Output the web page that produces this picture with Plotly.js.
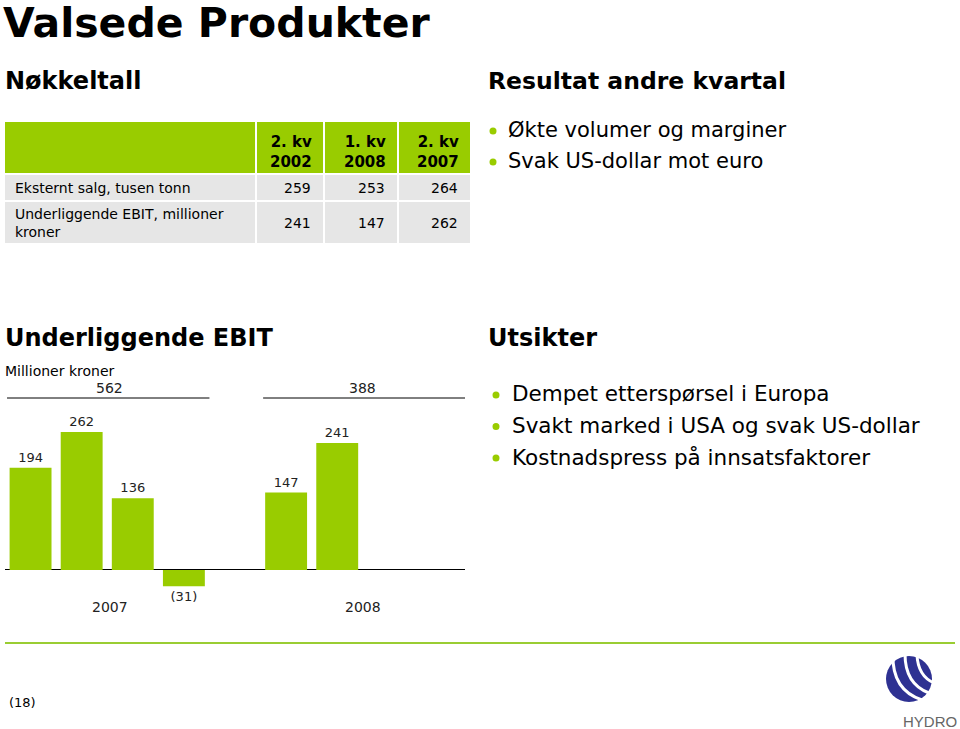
<!DOCTYPE html>
<html>
<head>
<meta charset="utf-8">
<script src="https://cdn.plot.ly/plotly-3.0.1.min.js"></script>
<style>html,body{margin:0;padding:0;background:#fff;}#chart{width:960px;height:729px;}</style>
</head>
<body>
<div id="chart"></div>
<script>
// ---- Data ----
const quarters = ["1. kv 2007","2. kv 2007","3. kv 2007","4. kv 2007"," ","1. kv 2008","2. kv 2008","3. kv 2008","4. kv 2008"];
const ebit = [194, 262, 136, -31, null, 147, 241, null, null];
const years = ["2007", "2008"];
const yearTotals = [562, 388];

const tableHeaders = ["2. kv<br>2002", "1. kv<br>2008", "2. kv<br>2007"];
const tableRowLabels = ["Eksternt salg, tusen tonn", "Underliggende EBIT, millioner<br>kroner"];
const tableSalg = [259, 253, 264];
const tableEbit = [241, 147, 262];

const resultBullets = ["Økte volumer og marginer", "Svak US-dollar mot euro"];
const outlookBullets = ["Dempet etterspørsel i Europa", "Svakt marked i USA og svak US-dollar", "Kostnadspress på innsatsfaktorer"];

// ---- Helpers ----
const W = 960, H = 729;
const px = x => x / W;
const py = y => 1 - y / H;
const GREEN = "#99CC00";
const GRAY = "#E6E6E6";
const FONT = "DejaVu Sans, Verdana, sans-serif";

const fmt = v => v == null ? "" : (v < 0 ? "(" + Math.abs(v) + ")" : String(v));

const trace = {
  type: "bar",
  x: quarters,
  y: ebit,
  marker: {color: GREEN},
  text: ebit.map(fmt),
  textposition: "outside",
  textfont: {family: FONT, size: 13, color: "#222"},
  cliponaxis: false,
  hoverinfo: "x+y"
};

const shapes = [];
const ann = [];
function txt(text, x, y, size, opts) {
  ann.push(Object.assign({
    text: text, x: px(x), y: py(y), xref: "paper", yref: "paper",
    xanchor: "left", yanchor: "middle", showarrow: false,
    font: {family: FONT, size: size, color: "#000"}
  }, opts || {}));
}
function rect(x0, y0, x1, y1, color) {
  shapes.push({type: "rect", xref: "paper", yref: "paper",
    x0: px(x0), x1: px(x1), y0: py(y1), y1: py(y0),
    fillcolor: color, line: {width: 0}, layer: "below"});
}
function dot(x, y, r) {
  shapes.push({type: "circle", xref: "paper", yref: "paper",
    x0: px(x - r), x1: px(x + r), y0: py(y + r), y1: py(y - r),
    fillcolor: GREEN, line: {width: 0}});
}

// Title & headings
txt("<b>Valsede Produkter</b>", 2, 23, 41, {borderpad: 0});
txt("<b>Nøkkeltall</b>", 3, 81, 24);
txt("<b>Resultat andre kvartal</b>", 486, 81, 23.5);
txt("<b>Underliggende EBIT</b>", 3, 338, 24);
txt("<b>Utsikter</b>", 486, 338, 24);
txt("Millioner kroner", 3, 371, 14);

// Result bullets
resultBullets.forEach((b, i) => {
  const y = 130 + i * 31;
  dot(493, y + 1, 3.5);
  txt(b, 506, y, 21);
});
// Outlook bullets
outlookBullets.forEach((b, i) => {
  const y = 394 + i * 31.5;
  dot(496, y + 1, 3.5);
  txt(b, 510, y, 21.5);
});

// Table
const colX = [[5, 255], [257, 323], [325, 397], [399, 470]];
const rowY = [[122, 173], [175, 200], [202, 243]];
colX.forEach(c => {
  rect(c[0], rowY[0][0], c[1], rowY[0][1], GREEN);
  rect(c[0], rowY[1][0], c[1], rowY[1][1], GRAY);
  rect(c[0], rowY[2][0], c[1], rowY[2][1], GRAY);
});
tableHeaders.forEach((h, i) => {
  txt("<b>" + h + "</b>", colX[i + 1][1] - 9, 152, 15, {xanchor: "right", align: "right"});
});
txt(tableRowLabels[0], 13, 187.5, 14);
txt(tableRowLabels[1], 13, 223, 14, {align: "left"});
tableSalg.forEach((v, i) => txt(String(v), colX[i + 1][1] - 10, 187.5, 14, {xanchor: "right"}));
tableEbit.forEach((v, i) => txt(String(v), colX[i + 1][1] - 10, 223, 14, {xanchor: "right"}));

// Year brackets & totals (data x positions)
const yearSpans = [[-0.46, 3.5], [4.55, 8.5]];
const yearCenters = [1.55, 6.5];
yearTotals.forEach((t, i) => {
  shapes.push({type: "line", xref: "x", yref: "paper",
    x0: yearSpans[i][0], x1: yearSpans[i][1], y0: py(398), y1: py(398),
    line: {color: "#000", width: 1}});
  ann.push({text: String(t), x: yearCenters[i], y: py(388), xref: "x", yref: "paper",
    xanchor: "center", yanchor: "middle", showarrow: false,
    font: {family: FONT, size: 14, color: "#222"}});
  ann.push({text: years[i], x: yearCenters[i], y: py(607), xref: "x", yref: "paper",
    xanchor: "center", yanchor: "middle", showarrow: false,
    font: {family: FONT, size: 14, color: "#222"}});
});

// Footer
shapes.push({type: "line", xref: "paper", yref: "paper",
  x0: px(5), x1: px(955), y0: py(643), y1: py(643),
  line: {color: "#9ACD32", width: 2}});
txt("(18)", 7, 702, 13);

// Hydro logo
const cx = 909, cy = 679, r = 23;
shapes.push({type: "circle", xref: "paper", yref: "paper",
  x0: px(cx - r), x1: px(cx + r), y0: py(cy + r), y1: py(cy - r),
  fillcolor: "#2E3192", line: {width: 0}});
function p(x, y) { return px(x).toFixed(5) + "," + py(y).toFixed(5); }
const stripes = [
  [[893, 655], [892, 690], [922, 700]],
  [[905, 654], [905, 684], [929, 693]],
  [[917, 655], [918, 676], [934, 683]]
];
stripes.forEach(s => {
  shapes.push({type: "path", xref: "paper", yref: "paper",
    path: "M" + p(s[0][0], s[0][1]) + " Q" + p(s[1][0], s[1][1]) + " " + p(s[2][0], s[2][1]),
    line: {color: "#fff", width: 3}});
});
txt("HYDRO", 930, 721, 15, {xanchor: "center", font: {family: "Liberation Sans Narrow, Arial Narrow, sans-serif", size: 15, color: "#666"}});

const layout = {
  width: W, height: H,
  margin: {l: 0, r: 0, t: 0, b: 0},
  paper_bgcolor: "#fff", plot_bgcolor: "rgba(0,0,0,0)",
  showlegend: false,
  bargap: 0.18,
  xaxis: {domain: [px(5), px(465)], type: "category", categoryorder: "array", categoryarray: quarters,
    range: [-0.5, 8.5], showticklabels: false, showgrid: false, zeroline: false, showline: false, ticks: "", fixedrange: true},
  yaxis: {domain: [py(590), py(400)], range: [-38, 322.6], showticklabels: false, showgrid: false,
    zeroline: true, zerolinecolor: "#000", zerolinewidth: 1, showline: false, ticks: "", fixedrange: true},
  shapes: shapes,
  annotations: ann
};

Plotly.newPlot("chart", [trace], layout, {displayModeBar: false, staticPlot: true});
</script>
</body>
</html>
